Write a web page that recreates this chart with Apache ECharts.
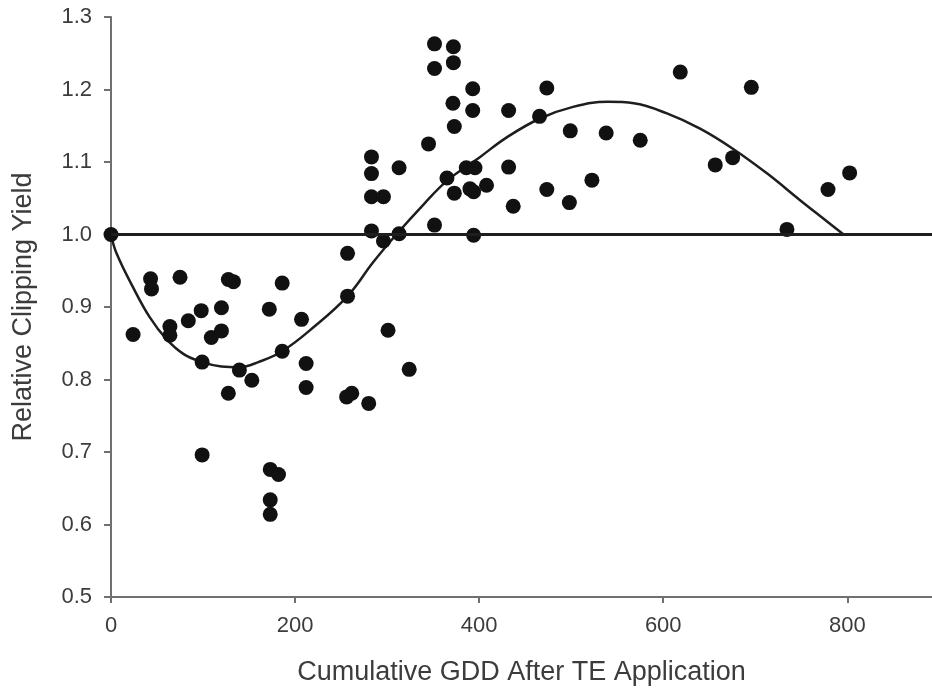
<!DOCTYPE html>
<html>
<head>
<meta charset="utf-8">
<title>Relative Clipping Yield</title>
<script src="https://cdn.jsdelivr.net/npm/echarts@6/dist/echarts.min.js"></script>
<style>
  html, body { margin: 0; padding: 0; background: #fff; }
  #chart { width: 932px; height: 693px; }
</style>
</head>
<body>
<div id="chart"></div>
<script>
// observed points, cumulative GDD vs relative clipping yield
const gdd = [
  0, 24, 43, 44, 64, 64, 75, 84, 98, 99, 99, 109, 120, 120, 127.5, 133, 127.5, 139.5, 153, 172,
  173, 182, 173, 173, 186, 186, 207, 212, 212, 256, 261.6, 280, 257, 257, 301, 324, 283, 283, 283, 296,
  283, 296, 313, 313, 345, 351.5, 351.5, 351.5, 372, 372, 371.5, 373, 365, 373, 386, 395.5, 390, 394, 393, 393,
  394, 408, 432, 432, 437, 465.6, 473.5, 473.5, 498, 499, 522.5, 538, 575, 618.5, 656.5, 675.4, 695.7, 734.4, 779, 802.5
];
const yieldRel = [
  1.0, 0.862, 0.939, 0.925, 0.873, 0.861, 0.941, 0.881, 0.895, 0.824, 0.696, 0.858, 0.867, 0.899, 0.938, 0.935, 0.781, 0.813, 0.799, 0.897,
  0.676, 0.669, 0.634, 0.614, 0.933, 0.839, 0.883, 0.822, 0.789, 0.776, 0.781, 0.767, 0.974, 0.915, 0.868, 0.814, 1.107, 1.084, 1.052, 1.052,
  1.005, 0.991, 1.092, 1.001, 1.125, 1.263, 1.229, 1.013, 1.259, 1.237, 1.181, 1.149, 1.078, 1.057, 1.092, 1.092, 1.063, 1.059, 1.201, 1.171,
  0.999, 1.068, 1.171, 1.093, 1.039, 1.163, 1.202, 1.062, 1.044, 1.143, 1.075, 1.140, 1.130, 1.224, 1.096, 1.106, 1.203, 1.007, 1.062, 1.085
];

// fitted curve
const fitX = [0, 6, 24, 42, 60, 79, 99, 120, 140, 160, 186, 220, 257, 285, 310, 340, 365, 400, 430, 466, 502, 540, 568, 604, 640, 676, 713, 749, 778, 796];
const fitY = [1.0, 0.974, 0.927, 0.886, 0.856, 0.835, 0.824, 0.818, 0.817, 0.824, 0.839, 0.872, 0.915, 0.962, 1.0, 1.042, 1.074, 1.106, 1.134, 1.160, 1.176, 1.183, 1.181, 1.167, 1.146, 1.118, 1.084, 1.047, 1.018, 1.0];

const referenceLevel = 1.0;
const xTicks = [0, 200, 400, 600, 800];

const chart = echarts.init(document.getElementById("chart"));
const textColor = "#3c3c3c";
const axisColor = "#707070";

const option = {
  animation: false,
  backgroundColor: "#fff",
  grid: { left: 111, right: 0, top: 17, bottom: 96 },
  xAxis: {
    type: "value",
    min: 0,
    max: 892,
    interval: 200,
    name: "Cumulative GDD After TE Application",
    nameLocation: "middle",
    nameGap: 62,
    nameTextStyle: { fontFamily: "Liberation Sans", fontSize: 27, color: textColor },
    splitLine: { show: false },
    axisLine: { onZero: false, lineStyle: { color: axisColor, width: 2 } },
    axisTick: { length: 6, lineStyle: { color: axisColor, width: 2 } },
    axisLabel: {
      margin: 18,
      fontFamily: "Liberation Sans",
      fontSize: 22,
      color: textColor,
      showMaxLabel: false,
      formatter: v => (xTicks.includes(v) ? String(v) : "")
    }
  },
  yAxis: {
    type: "value",
    min: 0.5,
    max: 1.3,
    interval: 0.1,
    name: "Relative Clipping Yield",
    nameLocation: "middle",
    nameGap: 74,
    nameTextStyle: { fontFamily: "Liberation Sans", fontSize: 27, color: textColor },
    splitLine: { show: false },
    axisLine: { show: true, lineStyle: { color: axisColor, width: 2 } },
    axisTick: { show: true, length: 7, lineStyle: { color: axisColor, width: 2 } },
    axisLabel: {
      margin: 19,
      fontFamily: "Liberation Sans",
      fontSize: 22,
      color: textColor,
      formatter: v => v.toFixed(1)
    }
  },
  series: [
    {
      type: "line",
      data: fitX.map((x, i) => [x, fitY[i]]),
      smooth: 0.4,
      showSymbol: false,
      lineStyle: { color: "#1e1e1e", width: 2.5 },
      z: 3,
      markLine: {
        silent: true,
        symbol: "none",
        label: { show: false },
        lineStyle: { color: "#1e1e1e", width: 3, type: "solid" },
        data: [{ yAxis: referenceLevel }]
      }
    },
    {
      type: "scatter",
      data: gdd.map((x, i) => [x, yieldRel[i]]),
      symbol: "circle",
      symbolSize: 15,
      itemStyle: { color: "#111", opacity: 1 },
      z: 4
    }
  ]
};

chart.setOption(option);
</script>
</body>
</html>
